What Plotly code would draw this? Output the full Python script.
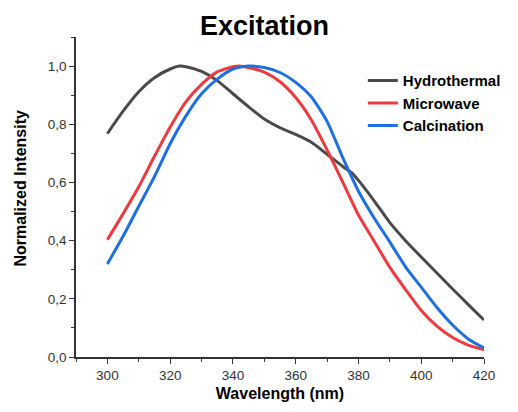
import plotly.graph_objects as go

# Wavelength grids (nm)
wl_hydro = [300, 305, 310, 315, 320, 323, 325, 330, 335, 340, 345, 350, 355, 360,
            365, 370, 375, 378, 380, 385, 390, 395, 400, 405, 410, 415, 420]
hydrothermal = [0.768, 0.845, 0.912, 0.960, 0.990, 1.000, 0.998, 0.982, 0.950, 0.905,
                0.860, 0.818, 0.788, 0.765, 0.738, 0.697, 0.655, 0.632, 0.607, 0.537,
                0.462, 0.400, 0.344, 0.289, 0.234, 0.180, 0.127]

wl_micro = [300, 305, 310, 315, 320, 325, 330, 335, 340, 342, 345, 350, 355, 360,
            365, 370, 375, 380, 385, 390, 395, 400, 405, 410, 415, 420]
microwave = [0.403, 0.492, 0.585, 0.690, 0.790, 0.877, 0.937, 0.980, 0.998, 1.000,
             0.995, 0.979, 0.946, 0.892, 0.815, 0.712, 0.601, 0.488, 0.398, 0.308,
             0.232, 0.160, 0.106, 0.067, 0.041, 0.025]

wl_calc = [300, 305, 310, 315, 320, 325, 330, 335, 340, 345, 350, 355, 360, 365,
           370, 375, 380, 385, 390, 395, 400, 405, 410, 415, 420]
calcination = [0.320, 0.415, 0.518, 0.620, 0.733, 0.828, 0.905, 0.955, 0.990, 1.000,
               0.995, 0.978, 0.944, 0.894, 0.810, 0.685, 0.570, 0.478, 0.395, 0.310,
               0.240, 0.170, 0.110, 0.062, 0.031]

series = [
    ("Hydrothermal", wl_hydro, hydrothermal, "#4a4a4a"),
    ("Microwave", wl_micro, microwave, "#ec3a3f"),
    ("Calcination", wl_calc, calcination, "#1f6fe0"),
]

x_ticks = [300, 320, 340, 360, 380, 400, 420]
y_ticks = [0.0, 0.2, 0.4, 0.6, 0.8, 1.0]

fig = go.Figure()
for name, xs, ys, color in series:
    fig.add_trace(go.Scatter(
        x=xs, y=ys, name=name, mode="lines",
        line=dict(color=color, width=3, shape="spline", smoothing=0.6),
    ))

FAM = "Liberation Sans, Arial, sans-serif"
axis_font = dict(family=FAM, size=13.5, color="#333333")
title_font = dict(family=FAM, size=16, color="#000000")

fig.update_layout(
    width=518, height=412,
    margin=dict(l=76, r=31, t=37, b=51),
    paper_bgcolor="white", plot_bgcolor="white",
    separators=",.",
    showlegend=True,
    legend=dict(
        x=0.703, y=0.915, xanchor="left", yanchor="top",
        font=dict(family=FAM, size=15, color="#000000", weight="bold"),
        bgcolor="rgba(0,0,0,0)", borderwidth=0, tracegroupgap=0,
    ),
    xaxis=dict(
        range=[290, 420], tickvals=x_ticks, ticktext=[str(v) for v in x_ticks],
        showgrid=False, zeroline=False, showline=True, linecolor="#333333", linewidth=1.5,
        ticks="outside", ticklen=5, tickwidth=1.2, tickcolor="#333333",
        tickfont=axis_font,
        minor=dict(dtick=10, tick0=290, ticks="outside", ticklen=3, tickwidth=1, tickcolor="#333333"),
        title=dict(text="<b>Wavelength (nm)</b>", font=title_font, standoff=6),
    ),
    yaxis=dict(
        range=[0, 1.1], tickvals=y_ticks, tickformat=".1f",
        showgrid=False, zeroline=False, showline=True, linecolor="#333333", linewidth=1.5,
        ticks="outside", ticklen=5, tickwidth=1.2, tickcolor="#333333",
        tickfont=axis_font,
        minor=dict(dtick=0.1, tick0=0, ticks="outside", ticklen=3, tickwidth=1, tickcolor="#333333"),
    ),
    annotations=[
        dict(text="<b>Normalized Intensity</b>", textangle=-90, xref="paper", yref="paper",
             x=-0.136, y=0.528, xanchor="center", yanchor="middle", showarrow=False,
             font=title_font),
        dict(text="<b>Excitation</b>", xref="paper", yref="paper",
             x=(266 - 76) / 411, y=1.0 + (37 - 26) / 324, xanchor="center", yanchor="middle",
             showarrow=False,
             font=dict(family=FAM, size=27, color="#000000")),
    ],
)

fig.write_html("out.html", config={"displayModeBar": False},
               post_script="document.body.style.margin='0';document.body.style.overflow='hidden';")
